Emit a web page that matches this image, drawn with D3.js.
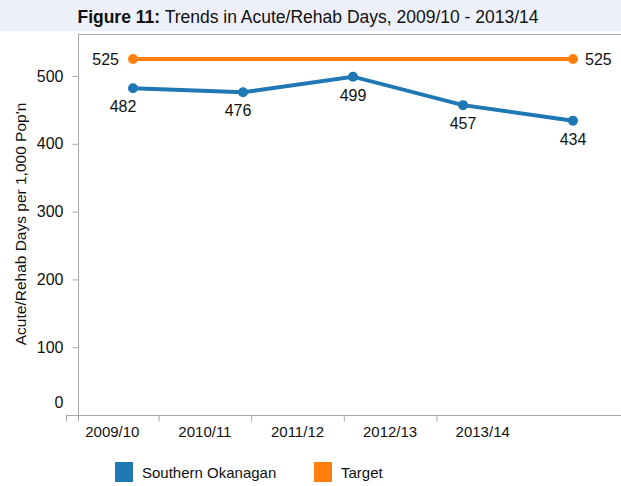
<!DOCTYPE html>
<html>
<head>
<meta charset="utf-8">
<script src="https://cdn.jsdelivr.net/npm/d3@7"></script>
<style>
  body { margin: 0; background: #fff; }
  text { font-family: "Liberation Sans", Arial, sans-serif; fill: #111; }
</style>
</head>
<body>
<script>
// Chart data
var years = ["2009/10", "2010/11", "2011/12", "2012/13", "2013/14"];
var southernOkanagan = [482, 476, 499, 457, 434];
var target = [525, 525, 525, 525, 525];
var yTicks = [0, 100, 200, 300, 400, 500];
var seriesNames = ["Southern Okanagan", "Target"];

var svgWidth = 621;
var svgHeight = 486;

var svg = d3.select("body")
  .append("svg")
  .attr("width", svgWidth)
  .attr("height", svgHeight);

// Title bar
svg.append("rect")
  .attr("x", 0).attr("y", 0)
  .attr("width", svgWidth).attr("height", 31)
  .attr("fill", "#edf0f8");

var title = svg.append("text")
  .attr("x", 308).attr("y", 23)
  .attr("text-anchor", "middle")
  .style("font-size", "17.5px");
title.append("tspan").style("font-weight", "bold").text("Figure 11:");
title.append("tspan").text(" Trends in Acute/Rehab Days, 2009/10 - 2013/14");

// Plot frame
var plotLeft = 78, plotTop = 34, plotBottom = 415;
svg.append("line")
  .attr("x1", plotLeft).attr("x2", svgWidth)
  .attr("y1", plotTop + 0.5).attr("y2", plotTop + 0.5)
  .attr("stroke", "#aaa");

// Scales
var yScale = d3.scaleLinear()
  .domain([0, 500])
  .range([plotBottom, 76]);

// axis labels sit on their own band grid, points on a wider one
var xBand = d3.scaleBand()
  .domain(years)
  .range([66, 529]);

var xPoint = d3.scalePoint()
  .domain(years)
  .range([133, 573]);

// Y axis
var yAxis = d3.axisLeft(yScale)
  .tickValues(yTicks)
  .tickSize(6)
  .tickPadding(9);

var yAxisG = svg.append("g")
  .attr("transform", `translate(${plotLeft + 0.5}, 0)`)
  .call(yAxis);
yAxisG.select(".domain").remove();
yAxisG.append("line")
  .attr("x1", 0).attr("x2", 0)
  .attr("y1", plotTop).attr("y2", plotBottom + 6)
  .attr("stroke", "#aaa");
yAxisG.selectAll(".tick line").attr("stroke", "#aaa");
yAxisG.selectAll(".tick text")
  .style("font-size", "16px")
  .attr("fill", "#111")
  .attr("dy", (d) => d === 0 ? "-0.45em" : "0.32em");

// X axis
var xAxis = d3.axisBottom(xBand).tickSize(0).tickPadding(11);
var xAxisG = svg.append("g")
  .attr("transform", `translate(0, ${plotBottom + 0.5})`)
  .call(xAxis);
xAxisG.select(".domain").remove();
xAxisG.append("line")
  .attr("x1", 66).attr("x2", svgWidth)
  .attr("y1", 0).attr("y2", 0)
  .attr("stroke", "#aaa");
xAxisG.selectAll(".bandTick")
  .data(years)
  .enter()
  .append("line")
  .attr("x1", d => xBand(d) + 0.5)
  .attr("x2", d => xBand(d) + 0.5)
  .attr("y1", 0).attr("y2", 6)
  .attr("stroke", "#aaa");
xAxisG.selectAll(".tick text")
  .style("font-size", "15px")
  .attr("fill", "#111");

// Y axis title
svg.append("text")
  .attr("transform", "translate(26, 224) rotate(-90)")
  .attr("text-anchor", "middle")
  .style("font-size", "15.5px")
  .text("Acute/Rehab Days per 1,000 Pop'n");

// Lines
var line = d3.line()
  .x((d, i) => xPoint(years[i]))
  .y(d => yScale(d));

var colors = ["#1f77b4", "#ff7f0e"];
var allSeries = [southernOkanagan, target];

allSeries.forEach(function(values, s) {
  svg.append("path")
    .datum(values)
    .attr("d", line)
    .attr("fill", "none")
    .attr("stroke", colors[s])
    .attr("stroke-width", 4);

  // target only marks its two end points
  var marked = values.map((d, i) => ({ v: d, i: i }))
    .filter(p => s === 0 || p.i === 0 || p.i === values.length - 1);

  svg.selectAll(".pt" + s)
    .data(marked)
    .enter()
    .append("circle")
    .attr("cx", p => xPoint(years[p.i]))
    .attr("cy", p => yScale(p.v))
    .attr("r", 5)
    .attr("fill", colors[s]);
});

// Value labels for Southern Okanagan (below points)
svg.selectAll(".soLabel")
  .data(southernOkanagan)
  .enter()
  .append("text")
  .attr("x", (d, i) => xPoint(years[i]) + (i === 0 ? -10 : i === 1 ? -5 : 0))
  .attr("y", d => yScale(d) + 24)
  .attr("text-anchor", "middle")
  .style("font-size", "16px")
  .text(d => d);

// Target labels at the two ends
var lastYear = years[years.length - 1];
svg.append("text")
  .attr("x", xPoint(years[0]) - 14)
  .attr("y", yScale(target[0]) + 6)
  .attr("text-anchor", "end")
  .style("font-size", "16px")
  .text(target[0]);
svg.append("text")
  .attr("x", xPoint(lastYear) + 12)
  .attr("y", yScale(target[target.length - 1]) + 6)
  .attr("text-anchor", "start")
  .style("font-size", "16px")
  .text(target[target.length - 1]);

// Legend
var legendX = [115, 314];
var legend = svg.selectAll(".legend")
  .data(seriesNames)
  .enter()
  .append("g")
  .attr("transform", (d, i) => `translate(${legendX[i]}, 462)`);
legend.append("rect")
  .attr("width", 18).attr("height", 20)
  .attr("fill", (d, i) => colors[i]);
legend.append("text")
  .attr("x", 27).attr("y", 16)
  .style("font-size", "15px")
  .text(d => d);
</script>
</body>
</html>
